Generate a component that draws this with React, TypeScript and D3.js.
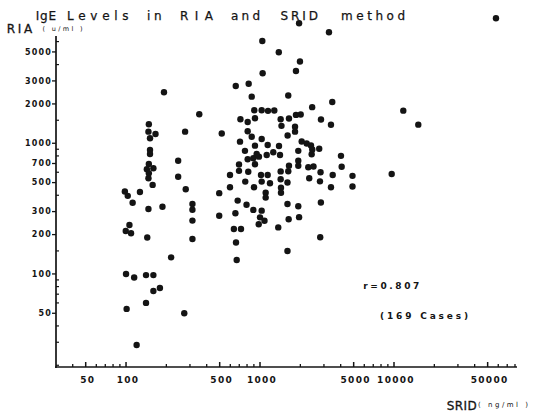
import React from "react";
import * as d3 from "d3";

// SRID (ng/ml) and RIA (u/ml), paired by index
const sridValues = [
  100, 115, 141, 160, 160, 179, 141, 101, 272, 120,
  217, 106, 99.5, 109, 144, 98, 103, 127, 112, 147,
  187, 158, 279, 245, 245, 148, 147, 166, 151, 151,
  151, 148, 143, 160, 148, 147, 276, 192, 313, 313,
  313, 313, 352, 518, 709, 772, 496, 597, 597, 697,
  697, 817, 776, 681, 793, 496, 655, 638, 721, 662,
  670, 659, 823, 867, 906, 1029, 1147, 1278, 714, 809,
  917, 809, 867, 1029, 1040, 1046, 1381, 917, 1141, 1386,
  809, 891, 982, 944, 1122, 1256, 1410, 917,
  1017, 1141, 1029, 1187, 902, 1102, 1102, 891, 1029, 1000, 1080, 978,
  1426, 1446, 1645, 1625, 1855, 2012, 1825, 1825, 1607,
  1957, 1987, 1855, 3271, 2451, 3462, 2851, 3385, 2046, 2230,
  2401, 2455, 2430, 2766, 1930, 1930, 1930, 1645, 2292, 2508,
  4020, 4069, 1426, 1625, 1426, 1603, 2330, 2802, 2830, 3488,
  3385, 4900, 4900, 1434, 1434, 1603, 1930, 2846, 1636, 1957,
  1368, 2814, 1603,
  9610, 11730, 15180, 57680,
];

const riaValues = [
  100, 94, 98, 98, 74, 78, 60, 54, 50, 28.6,
  134, 237, 213, 205, 190, 427, 396, 424, 351, 314,
  327, 480, 445, 555, 734, 1398, 1227, 1178, 1092, 889,
  828, 694, 633, 644, 590, 540, 1227, 2457, 343, 310,
  256, 185, 1667, 1189, 1029, 875, 415, 572, 461, 688,
  615, 606, 509, 364, 338, 279, 291, 221, 221, 174,
  128, 2745, 2854, 2273, 1789, 1789, 1770, 1783, 1527, 1456,
  1554, 1236, 1123, 1079, 6068, 3434, 4972, 959, 971, 954,
  754, 768, 790, 828, 814, 853, 814, 691,
  572, 572, 509, 494, 461, 419, 384, 309, 305, 271, 255, 240,
  1527, 1359, 1549, 2322, 1648, 1661, 1340, 1227, 1148,
  8288, 4228, 3577, 7073, 1890, 2071, 1521, 1386, 1032, 996,
  962, 896, 824, 908, 875, 734, 672, 674, 655, 664,
  801, 661, 609, 611, 530, 501, 540, 511, 600, 572,
  461, 563, 467, 457, 418, 343, 330, 352, 262, 272,
  227, 191, 150,
  582, 1776, 1388, 9052,
];

const xTickLabels = [50, 100, 500, 1000, 5000, 10000, 50000];
const xMinorTicks = [40, 60, 70, 80, 90, 200, 300, 400, 600, 700, 800, 900,
  2000, 3000, 4000, 6000, 7000, 8000, 9000, 20000, 30000, 40000, 60000, 70000, 80000];
const yTickLabels = [50, 100, 200, 300, 500, 700, 1000, 2000, 3000, 5000];
const yMinorTicks = [20, 30, 40, 60, 70, 80, 90, 150, 400, 600, 800, 900, 1500, 4000, 6000];

const titleWords = ["IgE", "Levels", "in", "RIA", "and", "SRID", "method"];
const titleLayout = [[35.7, 20.3], [67, 61.6], [147, 14.6], [180, 33], [231, 29], [280.6, 37.4], [341, 64]];

const W = 533;
const H = 415;
const INK = "#141414";
const FONT = "'DejaVu Sans', sans-serif";

export default function App() {
  const x = d3.scaleLog().domain([29.5, 82800]).range([55, 517]);
  const y = d3.scaleLog().domain([19.4, 6620]).range([367, 36]);
  const points = sridValues.map((s, i) => ({ s, r: riaValues[i] }));

  return (
    <svg width={W} height={H} style={{ position: "absolute", left: 0, top: 0, background: "#fff" }}
      fontFamily={FONT} fill={INK}>
      <rect width={W} height={H} fill="#fff" />
      {/* title */}
      {titleWords.map((w, i) => (
        <text key={w} x={titleLayout[i][0]} y={20} fontSize={12} textLength={titleLayout[i][1]}
          lengthAdjust="spacing" stroke={INK} strokeWidth={0.25}>{w}</text>
      ))}
      {/* y axis title */}
      <text x={6.8} y={33} fontSize={12} textLength={25.5} lengthAdjust="spacing" stroke={INK} strokeWidth={0.3}>RIA</text>
      <text x={42.5} y={31} fontSize={6.5} textLength={40} lengthAdjust="spacing">( u/ml )</text>
      {/* x axis title */}
      <text x={446.7} y={410} fontSize={12} textLength={30} lengthAdjust="spacing" stroke={INK} strokeWidth={0.3}>SRID</text>
      <text x={478} y={407} fontSize={7} textLength={50} lengthAdjust="spacing">( ng/ml )</text>

      {/* axes */}
      <line x1={x.range()[0]} x2={x.range()[1]} y1={367} y2={367} stroke={INK} strokeWidth={1.7} />
      <line x1={56} x2={56} y1={y.range()[1]} y2={368} stroke={INK} strokeWidth={1.7} />

      {xMinorTicks.map((v) => (
        <line key={"xm" + v} x1={x(v)} x2={x(v)} y1={367} y2={364} stroke={INK} strokeWidth={1.3} />
      ))}
      {xTickLabels.map((v) => (
        <g key={"xl" + v}>
          <line x1={x(v)} x2={x(v)} y1={367} y2={362} stroke={INK} strokeWidth={1.5} />
          <text x={x(v) + 2} y={383} fontSize={9} fontWeight="bold" textAnchor="middle" letterSpacing={1.3}>{v}</text>
        </g>
      ))}

      {yMinorTicks.map((v) => (
        <line key={"ym" + v} x1={56} x2={59} y1={y(v)} y2={y(v)} stroke={INK} strokeWidth={1.2} />
      ))}
      {yTickLabels.map((v) => (
        <g key={"yl" + v}>
          <line x1={52} x2={56} y1={y(v)} y2={y(v)} stroke={INK} strokeWidth={1.3} />
          <text x={52} y={y(v)} dy="0.36em" fontSize={8} fontWeight="bold" textAnchor="end" letterSpacing={1.2}>{v}</text>
        </g>
      ))}

      {/* points */}
      {points.map((p, i) => (
        <circle key={i} cx={x(p.s)} cy={y(p.r)} r={3.2} fill={INK} />
      ))}

      {/* annotations */}
      <text x={363.3} y={289} fontSize={9} fontWeight="bold" textLength={56} lengthAdjust="spacing">r=0.807</text>
      <text x={380} y={318.5} fontSize={9} fontWeight="bold" textLength={88} lengthAdjust="spacing">(169 Cases)</text>
    </svg>
  );
}
